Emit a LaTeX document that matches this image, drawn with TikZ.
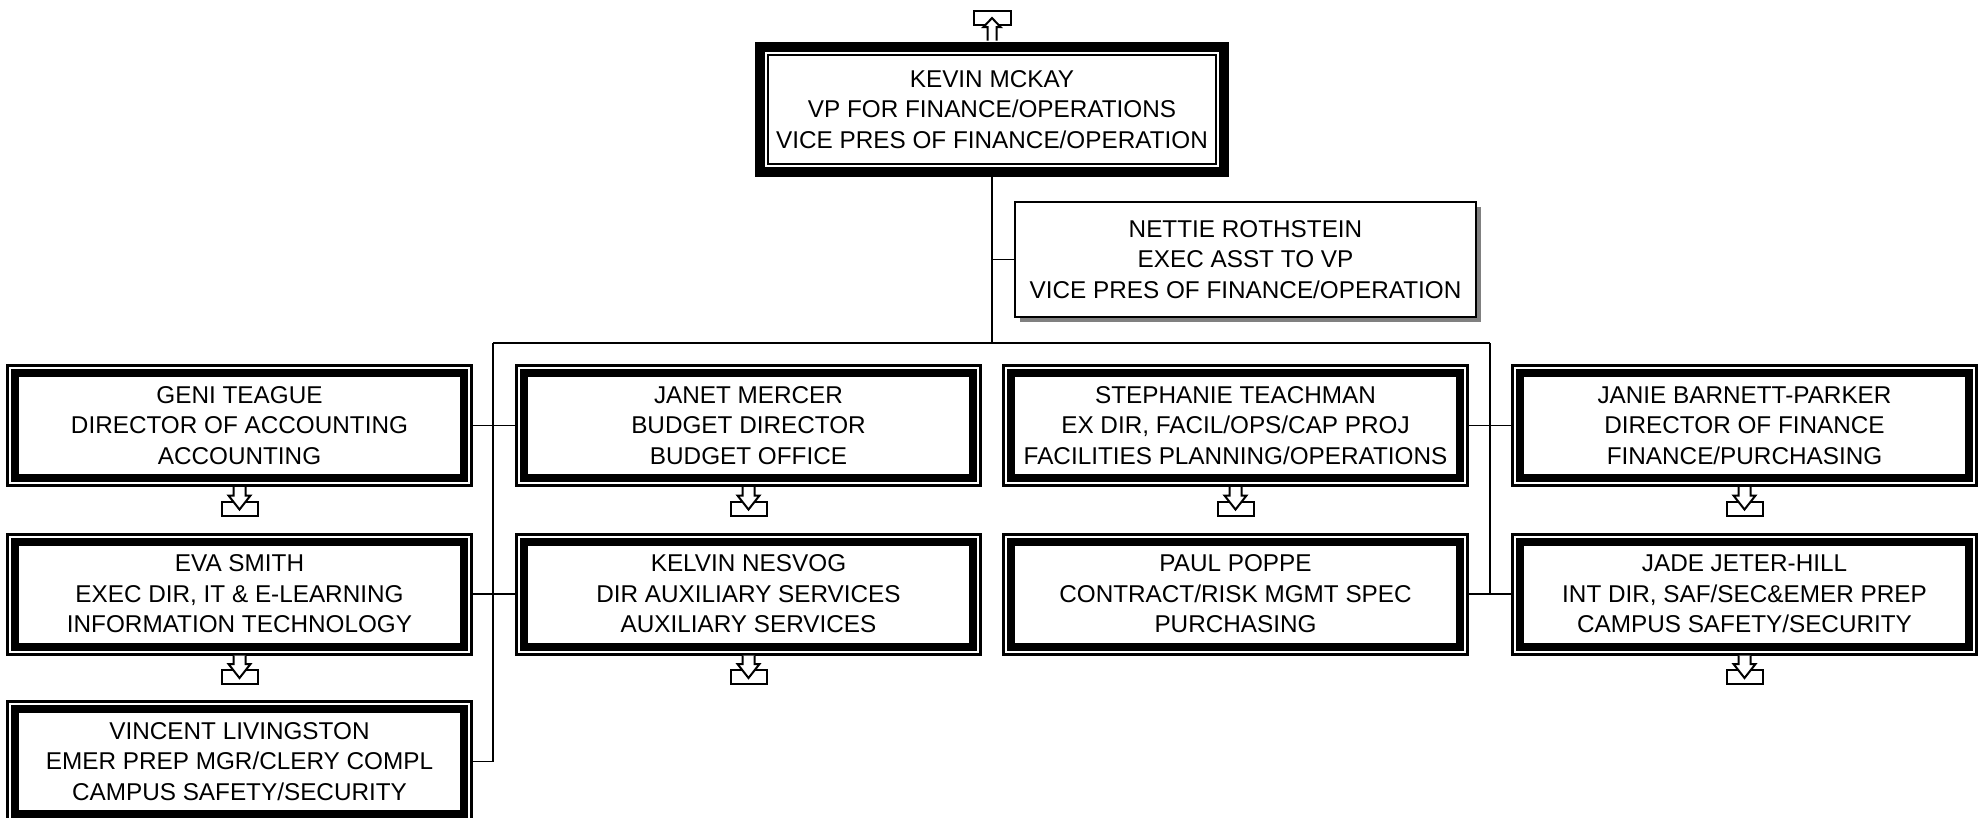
\documentclass[tikz,border=0pt]{standalone}
\usepackage{fontspec}
\setmainfont{Liberation Sans}
\usepackage{tikz}
\usetikzlibrary{calc, shadows}
\definecolor{shadowgray}{RGB}{128, 128, 128}

% small "has subordinates" mark under a box
\newcommand{\subicon}[1]{%
    \draw[icon] ($(#1.south)+(-18,16)$) rectangle ($(#1.south)+(18,30)$);
    \draw[icon] ($(#1.south)+(-6,1.5)$) -- ++(0,8.5) -- ++(-5,0) -- ($(#1.south)+(0,24)$)
        -- ($(#1.south)+(11,10)$) -- ++(-5,0) -- ++(0,-8.5);
}

\begin{document}
\begin{tikzpicture}[x=1pt, y=-1pt,
    every node/.style={font=\fontsize{24.3}{30.5}\selectfont, align=center, inner sep=0pt, outer sep=0pt},
    unitbox/.style={draw, line width=3pt, fill=white, minimum width=464pt, minimum height=120pt},
    vpbox/.style={draw, line width=10pt, fill=white, minimum width=464pt, minimum height=125pt},
    asstbox/.style={draw, line width=1.8pt, fill=white, minimum width=461pt, minimum height=115pt,
        drop shadow={shadow xshift=5pt, shadow yshift=-5pt, fill=shadowgray, opacity=1}},
    band/.style={line width=8pt},
    link/.style={line width=1.7pt},
    icon/.style={line width=2pt, fill=white, line join=miter}]
    \useasboundingbox (0,0) rectangle (1983,817);

    % top of the chart
    \node[vpbox] (vp) at (992,109.5) {KEVIN MCKAY\\VP FOR FINANCE/OPERATIONS\\VICE PRES OF FINANCE/OPERATION};
    \draw[line width=2pt] ($(vp.north west)+(8,8)$) rectangle ($(vp.south east)+(-8,-8)$);
    \node[asstbox] (asst) at (1245.5,259.5) {NETTIE ROTHSTEIN\\EXEC ASST TO VP\\VICE PRES OF FINANCE/OPERATION};

    % first row
    \node[unitbox] (geni) at (239.5,425.5) {GENI TEAGUE\\DIRECTOR OF ACCOUNTING\\ACCOUNTING};
    \node[unitbox] (janet) at (748.5,425.5) {JANET MERCER\\BUDGET DIRECTOR\\BUDGET OFFICE};
    \node[unitbox] (steph) at (1235.5,425.5) {STEPHANIE TEACHMAN\\EX DIR, FACIL/OPS/CAP PROJ\\FACILITIES PLANNING/OPERATIONS};
    \node[unitbox] (janie) at (1744.5,425.5) {JANIE BARNETT-PARKER\\DIRECTOR OF FINANCE\\FINANCE/PURCHASING};

    % second row
    \node[unitbox] (eva) at (239.5,594) {EVA SMITH\\EXEC DIR, IT \& E-LEARNING\\INFORMATION TECHNOLOGY};
    \node[unitbox] (kelvin) at (748.5,594) {KELVIN NESVOG\\DIR AUXILIARY SERVICES\\AUXILIARY SERVICES};
    \node[unitbox] (paul) at (1235.5,594) {PAUL POPPE\\CONTRACT/RISK MGMT SPEC\\PURCHASING};
    \node[unitbox] (jade) at (1744.5,594) {JADE JETER-HILL\\INT DIR, SAF/SEC\&EMER PREP\\CAMPUS SAFETY/SECURITY};

    % third row
    \node[unitbox] (vince) at (239.5,761.5) {VINCENT LIVINGSTON\\EMER PREP MGR/CLERY COMPL\\CAMPUS SAFETY/SECURITY};

    \foreach \n in {geni,janet,steph,janie,eva,kelvin,paul,jade,vince}
        \draw[band] ($(\n.north west)+(7.5,7.5)$) rectangle ($(\n.south east)+(-7.5,-7.5)$);

    % lines
    \coordinate (barL) at (493,343);
    \coordinate (barR) at (1490,343);
    \draw[link] (vp.south) -- (vp.south |- barL);
    \draw[link] (asst.west) -- (asst.west -| vp.south);
    \draw[link] (barL) -- (barR);
    \draw[link] (barL) -- (barL |- vince.east) -- (vince.east);
    \draw[link] (geni.east) -- (janet.west);
    \draw[link] (eva.east) -- (kelvin.west);
    \draw[link] (barR) -- (barR |- paul.east);
    \draw[link] (steph.east) -- (janie.west);
    \draw[link] (paul.east) -- (jade.west);

    % marks
    \draw[icon] ($(vp.north)+(-18.5,-36)$) rectangle ($(vp.north)+(18.5,-22)$);
    \draw[icon] ($(vp.north)+(-4.5,-6.5)$) -- ++(0,-13.5) -- ++(-4,0) -- ($(vp.north)+(0,-29)$)
        -- ($(vp.north)+(8.5,-20)$) -- ++(-4,0) -- ++(0,13.5);
    \foreach \n in {geni,janet,steph,janie,eva,kelvin,jade}
        {\subicon{\n}}
\end{tikzpicture}
\end{document}
